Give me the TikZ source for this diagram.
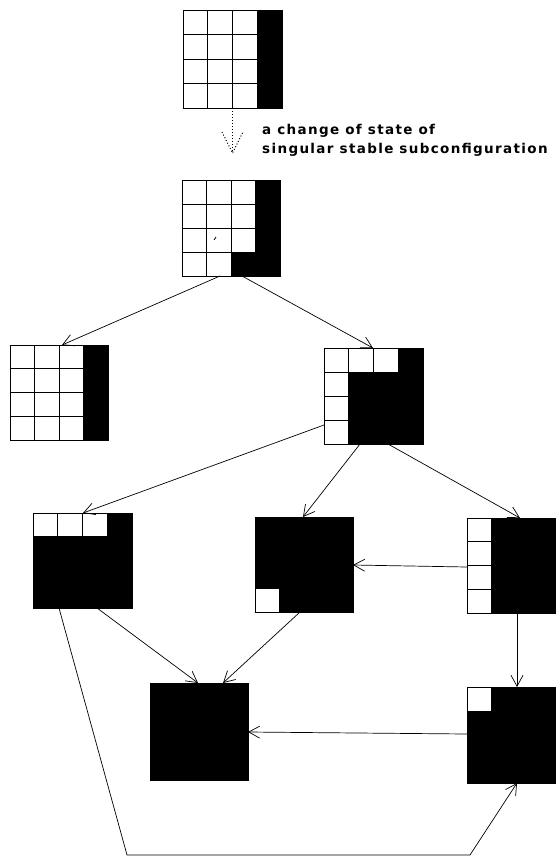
\documentclass[tikz,border=0pt]{standalone}
\usepackage{fontspec}
\newfontfamily\lblfont[LetterSpace=10]{DejaVu Sans}
\usetikzlibrary{arrows.meta,calc}
\tikzset{
  gbox/.style={draw, fill=black, line width=1pt, inner sep=0pt, outer sep=0pt},
  gline/.style={draw, line width=1pt},
  conn/.style={draw, line width=0.7pt, -{Straight Barb[length=11pt,width=12pt,line width=0.7pt]}},
  dotconn/.style={draw, line width=1pt, dotted},
  lbl/.style={font=\lblfont\bfseries\fontsize{13.5}{16}\selectfont, inner sep=0pt, anchor=base west}
}
\newcommand\drawgrid[6]{%
  \node[gbox, minimum width=#4, minimum height=#5, anchor=north west] (#1) at (#2,#3) {};
  \foreach \c/\r in {#6} {\draw[gline, fill=white] ({#2+(\c-1)*#4/4},{#3+(\r-1)*#5/4}) rectangle ++({#4/4},{#5/4});}
}
\begin{document}
\begin{tikzpicture}[x=1pt,y=-1pt]
\useasboundingbox (0,0) rectangle (556,857);
\clip (0,0) rectangle (556,857);
\fill[white] (0,0) rectangle (556,857);
% grids
\drawgrid{g1}{183}{10}{99}{98}{1/1,2/1,3/1,1/2,2/2,3/2,1/3,2/3,3/3,1/4,2/4,3/4}
\drawgrid{g2}{182}{180}{98}{96}{1/1,2/1,3/1,1/2,2/2,3/2,1/3,2/3,3/3,1/4,2/4}
\drawgrid{g3}{10}{345}{98}{95}{1/1,2/1,3/1,1/2,2/2,3/2,1/3,2/3,3/3,1/4,2/4,3/4}
\drawgrid{g4}{324}{348}{99}{96}{1/1,2/1,3/1,1/2,1/3,1/4}
\drawgrid{g5}{33}{513}{99}{95}{1/1,2/1,3/1}
\drawgrid{g6}{255}{517}{98}{95}{1/4}
\drawgrid{g7}{467}{518}{99}{95}{1/1,1/2,1/3,1/4}
\node[gbox, minimum width=98, minimum height=97, anchor=north west] (g8) at (150,683) {};
\drawgrid{g9}{467}{687}{99}{96}{1/1}
% small mark in g2
\draw[line width=0.8pt] (214,240) -- (216,237);
% dotted arrow and label
\coordinate (tip) at (232.5,153);
\draw[dotconn] (g1.south) -- (tip);
\draw[dotconn] (222,132) -- (tip) -- (243,132);
\node[lbl] (l1) at (262,134) {a change of state of};
\node[lbl] (l2) at (262,153) {singular stable subconfiguration};
% connectors
\draw[conn] ($(g2.south west)+(38,0)$) -- ($(g3.north west)+(52,0)$);
\draw[conn] ($(g2.south west)+(60,0)$) -- ($(g4.north west)+(49,0)$);
\draw[conn] ($(g4.north west)+(0,77)$) -- ($(g5.north west)+(50,0)$);
\draw[conn] ($(g4.south west)+(36,0)$) -- ($(g6.north west)+(48,0)$);
\draw[conn] ($(g4.south west)+(64,0)$) -- ($(g7.north west)+(53,0)$);
\draw[conn] ($(g7.north west)+(0,49)$) -- ($(g6.north east)+(0,48)$);
\draw[conn] ($(g7.south west)+(50,0)$) -- ($(g9.north west)+(50,0)$);
\draw[conn] ($(g5.south west)+(64,0)$) -- ($(g8.north west)+(48,0)$);
\draw[conn] ($(g6.south west)+(45,0)$) -- ($(g8.north west)+(73,0)$);
\draw[conn] ($(g9.north west)+(0,47)$) -- ($(g8.north east)+(0,49)$);
\coordinate (b1) at (127,855);
\coordinate (b2) at (470,855);
\draw[conn] ($(g5.south west)+(26,0)$) -- (b1) -- (b2) -- ($(g9.south west)+(50,0)$);
\end{tikzpicture}
\end{document}
